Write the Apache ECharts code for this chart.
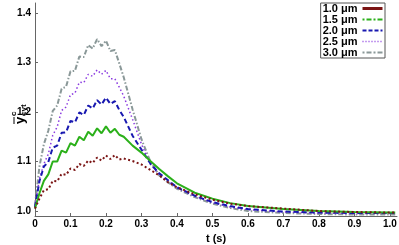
<!DOCTYPE html>
<html>
<head>
<meta charset="utf-8">
<script src="https://cdn.jsdelivr.net/npm/echarts@6/dist/echarts.min.js"></script>
<style>html,body{margin:0;padding:0;background:#fff}#c{width:399px;height:245px}</style>
</head>
<body>
<div id="c"></div>
<script>
// time samples (s)
var times = [0, 0.0125, 0.025, 0.0375, 0.05, 0.0625, 0.075, 0.0875, 0.1, 0.1125, 0.125, 0.1375, 0.15, 0.1625, 0.175, 0.1875, 0.2, 0.2125, 0.225, 0.2375, 0.25,
  0.275, 0.3, 0.325, 0.35, 0.375, 0.4, 0.45, 0.5, 0.55, 0.6, 0.7, 0.8, 0.9, 1.0, 1.015];
var seriesNames = ['1.0 \u03bcm', '1.5 \u03bcm', '2.0 \u03bcm', '2.5 \u03bcm', '3.0 \u03bcm'];
var v10 = [1.005, 1.025, 1.042, 1.044, 1.061, 1.060, 1.075, 1.073, 1.086, 1.083, 1.095, 1.091, 1.102, 1.097, 1.108, 1.102, 1.112, 1.105, 1.113, 1.104, 1.106,
  1.101, 1.094, 1.083, 1.072, 1.058, 1.048, 1.034, 1.023, 1.015, 1.010, 1.005, 1.000, 0.998, 0.997, 0.997];
var v15 = [1.005, 1.036, 1.061, 1.074, 1.100, 1.100, 1.122, 1.118, 1.137, 1.132, 1.150, 1.143, 1.160, 1.152, 1.167, 1.157, 1.171, 1.158, 1.166, 1.154, 1.150,
  1.132, 1.118, 1.101, 1.085, 1.070, 1.056, 1.037, 1.025, 1.016, 1.010, 1.004, 1.000, 0.998, 0.997, 0.997];
var v20 = [1.008, 1.060, 1.090, 1.099, 1.128, 1.132, 1.158, 1.159, 1.182, 1.179, 1.199, 1.194, 1.213, 1.207, 1.224, 1.215, 1.229, 1.216, 1.222, 1.204, 1.190,
  1.152, 1.124, 1.096, 1.076, 1.062, 1.048, 1.031, 1.018, 1.010, 1.004, 0.999, 0.997, 0.996, 0.996, 0.996];
var v25 = [1.010, 1.065, 1.095, 1.115, 1.153, 1.170, 1.203, 1.210, 1.235, 1.238, 1.260, 1.259, 1.276, 1.272, 1.285, 1.276, 1.284, 1.267, 1.267, 1.250, 1.232,
  1.185, 1.135, 1.095, 1.073, 1.060, 1.047, 1.030, 1.017, 1.008, 1.003, 0.998, 0.996, 0.995, 0.995, 0.995];
var v30 = [1.012, 1.090, 1.135, 1.162, 1.202, 1.213, 1.247, 1.251, 1.282, 1.283, 1.312, 1.311, 1.335, 1.328, 1.347, 1.333, 1.344, 1.323, 1.325, 1.298, 1.270,
  1.205, 1.145, 1.100, 1.072, 1.058, 1.045, 1.028, 1.015, 1.006, 1.000, 0.996, 0.994, 0.993, 0.993, 0.993];
var xTicks = [0, 0.1, 0.2, 0.3, 0.4, 0.5, 0.6, 0.7, 0.8, 0.9, 1.0];
var yTicks = [1.0, 1.1, 1.2, 1.3, 1.4];

var allVals = [v10, v15, v20, v25, v30];
var colors = ['#7a1414', '#2bb01a', '#1818b0', '#8a3ae0', '#8a9898'];
var lineStyles = [
  {width: 2, type: [2, 2.5]},
  {width: 2, type: 'solid'},
  {width: 2, type: [5, 3]},
  {width: 1.5, type: [1.5, 2.5]},
  {width: 2, type: [5, 2, 1.5, 2]}
];
var legendLines = [
  {width: 3, type: 'solid'},
  {width: 2, type: [2, 2, 5, 2]},
  {width: 2, type: [4, 2]},
  {width: 1.5, type: [1, 2]},
  {width: 2, type: [2, 2, 5, 2]}
];
var font = '"Liberation Sans", Arial, sans-serif';

var series = allVals.map(function (vals, k) {
  return {
    name: seriesNames[k],
    type: 'line',
    showSymbol: false,
    symbol: 'none',
    data: times.map(function (t, i) { return [t, vals[i]]; }),
    lineStyle: Object.assign({color: colors[k]}, lineStyles[k]),
    itemStyle: {color: colors[k]},
    z: 10 - k,
    animation: false
  };
});

var chart = echarts.init(document.getElementById('c'), null, {renderer: 'canvas'});
chart.setOption({
  animation: false,
  backgroundColor: '#fff',
  grid: {left: 35, right: 2, top: 3, bottom: 29, containLabel: false, outerBoundsMode: 'none'},
  xAxis: {
    type: 'value', min: 0, max: 1.02,
    name: 't (s)', nameLocation: 'middle', nameGap: 14,
    nameTextStyle: {fontFamily: font, fontWeight: 'bold', fontSize: 11, color: '#000'},
    axisLine: {lineStyle: {color: '#666', width: 1}},
    axisTick: {inside: true, length: 3, lineStyle: {color: '#666'}, customValues: xTicks},
    axisLabel: {customValues: xTicks, fontFamily: font, fontWeight: 'bold', fontSize: 10, color: '#000', margin: 3,
      formatter: function (v) { return v === 0 ? '0' : v.toFixed(1); }},
    splitLine: {show: false}
  },
  yAxis: {
    type: 'value', min: 0.99, max: 1.42,
    axisLine: {show: true, lineStyle: {color: '#666', width: 1}},
    axisTick: {show: true, inside: true, length: 3, lineStyle: {color: '#666'}, customValues: yTicks},
    axisLabel: {customValues: yTicks, fontFamily: font, fontWeight: 'bold', fontSize: 10, color: '#000', margin: 4,
      formatter: function (v) { return v.toFixed(1); }},
    splitLine: {show: false}
  },
  legend: {
    orient: 'vertical', right: 14, top: 3, itemGap: 0, itemWidth: 20, itemHeight: 10,
    align: 'right', padding: [0, 1, 0, 2],
    borderColor: '#555', borderWidth: 1, backgroundColor: '#fff',
    textStyle: {fontFamily: font, fontWeight: 'bold', fontSize: 11, color: '#000'},
    itemStyle: {color: 'rgba(0,0,0,0)', borderWidth: 0, opacity: 0},
    data: seriesNames.map(function (n, k) {
      return {name: n, lineStyle: Object.assign({color: colors[k]}, legendLines[k]),
        itemStyle: {color: 'rgba(0,0,0,0)', borderWidth: 0, opacity: 0}};
    })
  },
  graphic: [{
    type: 'group', x: 20, y: 124, rotation: Math.PI / 2,
    children: [
      {type: 'text', x: 0, y: 0, style: {text: 'y', font: 'bold 13px ' + font, fill: '#000', textAlign: 'left', textVerticalAlign: 'middle'}},
      {type: 'line', shape: {x1: 0, y1: -6, x2: 7, y2: -6}, style: {stroke: '#000', lineWidth: 1}},
      {type: 'text', x: 8, y: -6, style: {text: 'c', font: 'bold 8px ' + font, fill: '#000', textAlign: 'left', textVerticalAlign: 'middle'}},
      {type: 'text', x: 8, y: 4, style: {text: 'cyt', font: 'bold 8px ' + font, fill: '#000', textAlign: 'left', textVerticalAlign: 'middle'}}
    ]
  }],
  series: series
});
</script>
</body>
</html>
